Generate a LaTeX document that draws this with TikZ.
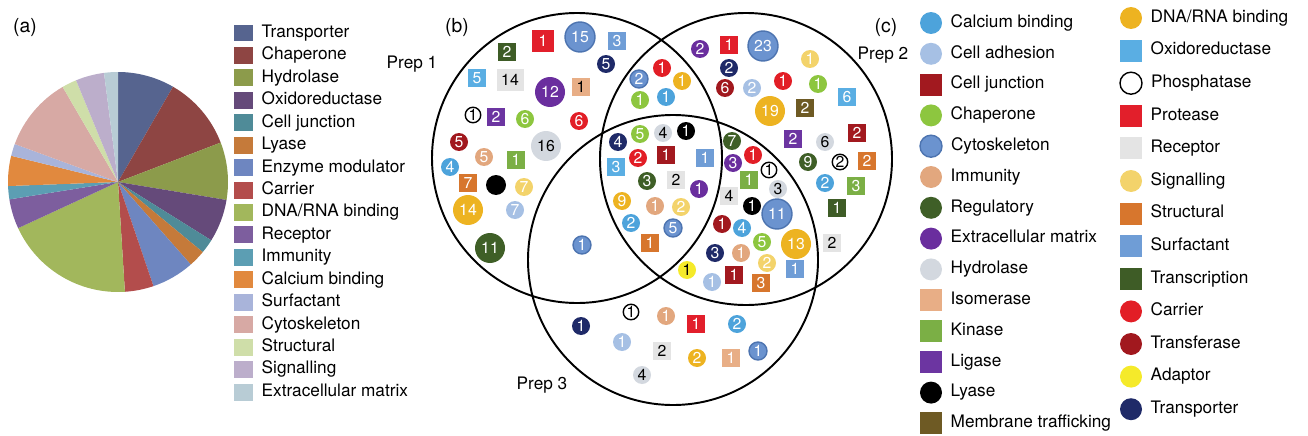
\documentclass[tikz,border=0pt]{standalone}
\usepackage{fontspec}
\setmainfont{TeX Gyre Heros}
\usetikzlibrary{positioning}

% pie colours (a)
\definecolor{pTransporter}{HTML}{56648F}
\definecolor{pChaperone}{HTML}{8E4543}
\definecolor{pHydrolase}{HTML}{8C9B4B}
\definecolor{pOxido}{HTML}{654A7A}
\definecolor{pJunction}{HTML}{4F8B98}
\definecolor{pLyase}{HTML}{C57A3A}
\definecolor{pEnzyme}{HTML}{6E86C0}
\definecolor{pCarrier}{HTML}{B34D4C}
\definecolor{pDNA}{HTML}{A2B75C}
\definecolor{pReceptor}{HTML}{7D5E9E}
\definecolor{pImmunity}{HTML}{5C9EB3}
\definecolor{pCalcium}{HTML}{E1893E}
\definecolor{pSurfactant}{HTML}{A9B4DA}
\definecolor{pCyto}{HTML}{D7A9A4}
\definecolor{pStructural}{HTML}{CFDEA9}
\definecolor{pSignalling}{HTML}{BCAECB}
\definecolor{pECM}{HTML}{B8CCD5}

% marker colours (b), (c)
\definecolor{cCalcium}{HTML}{4DA3DB}
\definecolor{cAdhesion}{HTML}{A6C0E4}
\definecolor{cJunction}{HTML}{A2191F}
\definecolor{cChaperone}{HTML}{8DC63F}
\definecolor{cCyto}{HTML}{6B93CF}
\definecolor{cCytoEdge}{HTML}{4D74B0}
\definecolor{cImmunity}{HTML}{E2A77E}
\definecolor{cRegul}{HTML}{3F5F27}
\definecolor{cECM}{HTML}{6A2E9E}
\definecolor{cHydro}{HTML}{D3D8DF}
\definecolor{cIso}{HTML}{E8AE86}
\definecolor{cKinase}{HTML}{7BAF45}
\definecolor{cLigase}{HTML}{6C35A1}
\definecolor{cMembrane}{HTML}{6E5A24}
\definecolor{cDNA}{HTML}{EDB321}
\definecolor{cOxido}{HTML}{5AAEE3}
\definecolor{cProtease}{HTML}{E21F2B}
\definecolor{cReceptor}{HTML}{E4E4E4}
\definecolor{cSignal}{HTML}{F3D36B}
\definecolor{cStruct}{HTML}{D7762D}
\definecolor{cSurf}{HTML}{6F9DD6}
\definecolor{cTranscr}{HTML}{3E5C26}
\definecolor{cCarrier}{HTML}{E21E26}
\definecolor{cTransf}{HTML}{A1181E}
\definecolor{cAdaptor}{HTML}{F5EA2A}
\definecolor{cTransp}{HTML}{1F2A68}

\newcommand\mkfont{\fontsize{9}{10}\selectfont}
\newcommand\lgfont{\fontsize{9.8}{11}\selectfont}
\newcommand\hdfont{\fontsize{11}{12}\selectfont}

\tikzset{
  ball/.style={circle,inner sep=0pt,minimum size=0.36cm,text=white,font=\mkfont},
  box/.style={rectangle,inner sep=0pt,minimum size=0.36cm,text=white,font=\mkfont},
  sm/.style={},
  med/.style={minimum size=0.4cm},
  mid/.style={minimum size=0.44cm},
  big/.style={minimum size=0.6cm},
  wide/.style={minimum width=0.54cm,minimum height=0.44cm},
  calcium/.style={ball,fill=cCalcium},
  adhesion/.style={ball,fill=cAdhesion},
  junction/.style={box,fill=cJunction},
  chaperone/.style={ball,fill=cChaperone},
  cytoskel/.style={ball,fill=cCyto,draw=cCytoEdge,line width=0.8pt},
  immunity/.style={ball,fill=cImmunity},
  regulatory/.style={ball,fill=cRegul},
  ecm/.style={ball,fill=cECM},
  hydrolase/.style={ball,fill=cHydro,text=black},
  isomerase/.style={box,fill=cIso,text=black},
  kinase/.style={box,fill=cKinase},
  ligase/.style={box,fill=cLigase},
  lyase/.style={ball,fill=black},
  membrane/.style={box,fill=cMembrane},
  dnarna/.style={ball,fill=cDNA},
  oxido/.style={box,fill=cOxido},
  phospha/.style={ball,fill=white,draw=black,line width=0.8pt,text=black,minimum size=0.31cm},
  protease/.style={box,fill=cProtease},
  receptor/.style={box,fill=cReceptor,text=black},
  signalling/.style={ball,fill=cSignal},
  structural/.style={box,fill=cStruct},
  surfactant/.style={box,fill=cSurf},
  transcr/.style={box,fill=cTranscr},
  carrier/.style={ball,fill=cCarrier},
  transferase/.style={ball,fill=cTransf},
  adaptor/.style={ball,fill=cAdaptor,text=black},
  transporter/.style={ball,fill=cTransp},
  lab/.style={anchor=west,inner sep=0pt,font=\lgfont,text height=7pt,text depth=2pt},
  ring/.style={draw,line width=1.1pt},
}

\begin{document}
\begin{tikzpicture}[x=0.02cm,y=-0.02cm]
\useasboundingbox (0,0) rectangle (1308,436);

% ---- (a) pie chart
\node[font=\hdfont] (pa) at (25,28) {(a)};
\foreach \a/\b/\c in {0/30/pTransporter,30/69/pChaperone,69/99.4/pHydrolase,
  99.4/122/pOxido,122/129.6/pJunction,129.6/138.6/pLyase,138.6/161.2/pEnzyme,
  161.2/176.4/pCarrier,176.4/245.2/pDNA,245.2/260.9/pReceptor,260.9/267.9/pImmunity,
  267.9/283.8/pCalcium,283.8/290.2/pSurfactant,290.2/329.8/pCyto,
  329.8/337.6/pStructural,337.6/352.7/pSignalling,352.7/360/pECM}
  \fill[\c] (118,182) -- ++(\a-90:110) arc[start angle=\a-90,end angle=\b-90,radius=110] -- cycle;

% legend (a)
\foreach [count=\k] \c/\t in {pTransporter/Transporter,pChaperone/Chaperone,
  pHydrolase/Hydrolase,pOxido/Oxidoreductase,pJunction/Cell junction,pLyase/Lyase,
  pEnzyme/Enzyme modulator,pCarrier/Carrier,pDNA/{DNA/RNA binding},pReceptor/Receptor,
  pImmunity/Immunity,pCalcium/Calcium binding,pSurfactant/Surfactant,
  pCyto/Cytoskeleton,pStructural/Structural,pSignalling/Signalling,
  pECM/Extracellular matrix}
{
  \node[fill=\c,inner sep=0pt,minimum width=0.38cm,minimum height=0.34cm] (ka\k) at (243,{33+22.44*(\k-1)}) {};
  \node[lab,right=0.17cm of ka\k] (ta\k) {\t};
}

% ---- (b) Venn diagram
\node[font=\hdfont] (pb) at (457,28) {(b)};
\draw[ring] (577,158) circle[radius=145]; % prep 1
\draw[ring] (746,159) circle[radius=146]; % prep 2
\draw[ring] (673,260) circle[radius=145]; % prep 3
\node[font=\lgfont] (p1) at (412,64) {Prep 1};
\node[font=\lgfont] (p2) at (883,55) {Prep 2};
\node[font=\lgfont] (p3) at (542,385) {Prep 3};

\foreach [count=\k] \s/\z/\x/\y/\t in {
  % prep 1 only
  transcr/sm/507/52/2, protease/mid/543/41/1, cytoskel/big/580/37/15,
  surfactant/sm/617/41/3, transporter/sm/606/64/5, oxido/sm/477/78/5,
  receptor/wide/510/80/14, ecm/big/550/92/12, isomerase/sm/581/87/1,
  phospha/sm/473/115/1, ligase/sm/496/117/2, chaperone/sm/525/119/6,
  carrier/sm/579/121/6, transferase/sm/459/142/5, immunity/sm/484/157/5,
  hydrolase/big/546/146/16, kinase/sm/516/160/1, calcium/sm/450/167/4,
  structural/sm/468/183/7, lyase/med/496/185/{}, signalling/sm/524/187/7,
  dnarna/big/468/210/14, adhesion/sm/515/210/7, regulatory/big/490/248/11,
  % prep 1 and 2
  cytoskel/sm/639/79/2, carrier/sm/662/68/1, dnarna/sm/682/81/1,
  chaperone/sm/640/100/1, calcium/sm/666/97/1,
  % prep 2 only
  ecm/sm/700/49/2, protease/sm/729/45/1, cytoskel/big/763/46/23,
  transporter/sm/729/68/2, transferase/sm/725/88/6, adhesion/sm/752/88/2,
  carrier/sm/783/81/1, signalling/sm/810/59/1, chaperone/sm/818/84/1,
  oxido/sm/847/97/6, dnarna/big/770/111/19, membrane/sm/805/108/2,
  ligase/sm/793/139/2, hydrolase/sm/825/142/6, junction/sm/857/133/2,
  regulatory/sm/808/162/9, phospha/sm/840/162/2, structural/sm/867/161/2,
  calcium/sm/825/183/2, kinase/sm/856/186/3, transcr/sm/837/208/1,
  receptor/sm/832/243/2,
  % all three
  transporter/sm/618/142/4, chaperone/sm/640/134/5, hydrolase/sm/663/133/4,
  lyase/sm/686/131/1, oxido/sm/616/167/3, carrier/sm/638/158/2,
  junction/sm/666/155/1, surfactant/sm/705/158/1, regulatory/sm/647/181/3,
  receptor/sm/676/180/2, ecm/sm/699/189/1, dnarna/sm/622/201/9,
  immunity/sm/655/206/1, signalling/sm/681/207/2, calcium/sm/631/223/2,
  cytoskel/sm/673/228/5, structural/sm/650/243/1,
  % prep 2 and 3
  regulatory/sm/732/141/7, ecm/sm/733/163/3, carrier/sm/753/155/1,
  phospha/sm/769/170/1, kinase/sm/749/180/1, hydrolase/sm/778/189/3,
  receptor/sm/729/196/4, lyase/sm/752/206/1, cytoskel/big/777/214/11,
  transferase/sm/722/224/1, calcium/sm/742/228/4, chaperone/sm/762/242/5,
  dnarna/big/796/244/13, transporter/sm/715/253/3, immunity/sm/741/253/1,
  signalling/sm/767/263/2, surfactant/sm/795/269/1, adaptor/sm/687/270/1,
  adhesion/sm/712/282/1, junction/sm/734/275/1, structural/sm/761/283/3,
  % prep 1 and 3
  cytoskel/sm/582/245/1,
  % prep 3 only
  phospha/sm/631/312/1, immunity/sm/666/316/1, protease/sm/696/324/1,
  calcium/sm/737/324/2, transporter/sm/581/326/1, adhesion/sm/622/342/1,
  receptor/sm/662/351/2, dnarna/sm/697/358/2, isomerase/sm/731/358/{\color{white}1},
  cytoskel/sm/758/351/1, hydrolase/sm/642/375/4}
  \node[\s,\z] (v\k) at (\x,\y) {\t};

% ---- (c) legend
\node[font=\hdfont] (pc) at (886,28) {(c)};
\foreach [count=\k] \s/\t in {calcium/Calcium binding,adhesion/Cell adhesion,
  junction/Cell junction,chaperone/Chaperone,cytoskel/Cytoskeleton,
  immunity/Immunity,regulatory/Regulatory,ecm/Extracellular matrix,
  hydrolase/Hydrolase,isomerase/Isomerase,kinase/Kinase,ligase/Ligase,
  lyase/Lyase,membrane/Membrane trafficking}
{
  \node[\s,mid] (kl\k) at (931,{23+30.8*(\k-1)}) {};
  \node[lab,right=0.16cm of kl\k] (tl\k) {\t};
}
\foreach [count=\k] \s/\t in {dnarna/{DNA/RNA binding},oxido/Oxidoreductase,
  phospha/Phosphatase,protease/Protease,receptor/Receptor,signalling/Signalling,
  structural/Structural,surfactant/Surfactant,transcr/Transcription,
  carrier/Carrier,transferase/Transferase,adaptor/Adaptor,transporter/Transporter}
{
  \node[\s,mid] (kr\k) at (1131,{18+32.6*(\k-1)}) {};
  \node[lab,right=0.16cm of kr\k] (tr\k) {\t};
}
\end{tikzpicture}
\end{document}
